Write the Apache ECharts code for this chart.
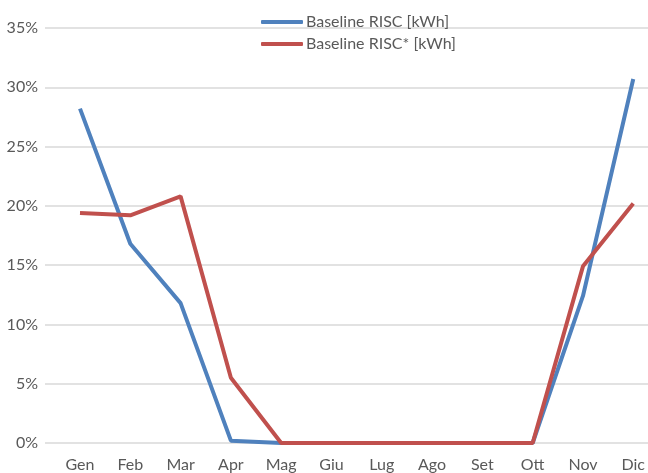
<!DOCTYPE html>
<html><head><meta charset="utf-8">
<script src="https://cdn.jsdelivr.net/npm/echarts@6/dist/echarts.min.js"></script>
<style>html,body{margin:0;padding:0;background:#fff}#c{width:648px;height:473px}</style>
</head><body><div id="c"></div>
<script>
const months = ['Gen','Feb','Mar','Apr','Mag','Giu','Lug','Ago','Set','Ott','Nov','Dic'];
const risc = [28.2, 16.8, 11.8, 0.2, 0, 0, 0, 0, 0, 0, 12.4, 30.7];
const riscStar = [19.4, 19.2, 20.8, 5.5, 0, 0, 0, 0, 0, 0, 14.9, 20.2];
const seriesNames = ['Baseline RISC [kWh]', 'Baseline RISC* [kWh]'];
const colors = ['#4F81BD', '#C0504D'];
const font = 'Lato, "Open Sans", sans-serif';
const chart = echarts.init(document.getElementById('c'));
chart.setOption({
  animation: false,
  textStyle: {fontFamily: font},
  legend: {
    orient: 'vertical', left: 256, top: 9, itemGap: 6,
    itemWidth: 42, itemHeight: 4,
    textStyle: {color: '#595959', fontSize: 16, fontFamily: font, padding: [0,0,0,-2]},
    data: seriesNames.map((n,i)=>({name:n, icon:'roundRect', itemStyle:{color:colors[i]}}))
  },
  grid: [
    {left: 45, right: -30, top: 28, bottom: 30},
    {left: 80, right: 12, top: 28, bottom: 30}
  ],
  xAxis: [
    {gridIndex: 0, type: 'value', min: 0, max: 1, show: false},
    {gridIndex: 1, type: 'category', data: months, boundaryGap: false,
     axisLine: {show: false}, axisTick: {show: false},
     axisLabel: {color: '#595959', fontSize: 16, margin: 14, fontFamily: font}}
  ],
  yAxis: [
    {gridIndex: 0, type: 'value', min: 0, max: 35, interval: 5,
     axisLine: {show: false}, axisTick: {show: false},
     axisLabel: {color: '#595959', fontSize: 16, margin: 7, formatter: '{value}%', fontFamily: font},
     splitLine: {lineStyle: {color: '#d9d9d9', width: 1.5}}},
    {gridIndex: 1, type: 'value', min: 0, max: 35, interval: 5, show: false, splitLine: {show: false}}
  ],
  series: [
    {name: seriesNames[0], type: 'line', xAxisIndex: 1, yAxisIndex: 1, data: risc,
     symbol: 'none', lineStyle: {color: colors[0], width: 4}, itemStyle: {color: colors[0]}},
    {name: seriesNames[1], type: 'line', xAxisIndex: 1, yAxisIndex: 1, data: riscStar,
     symbol: 'none', lineStyle: {color: colors[1], width: 4}, itemStyle: {color: colors[1]}}
  ]
});
</script></body></html>
